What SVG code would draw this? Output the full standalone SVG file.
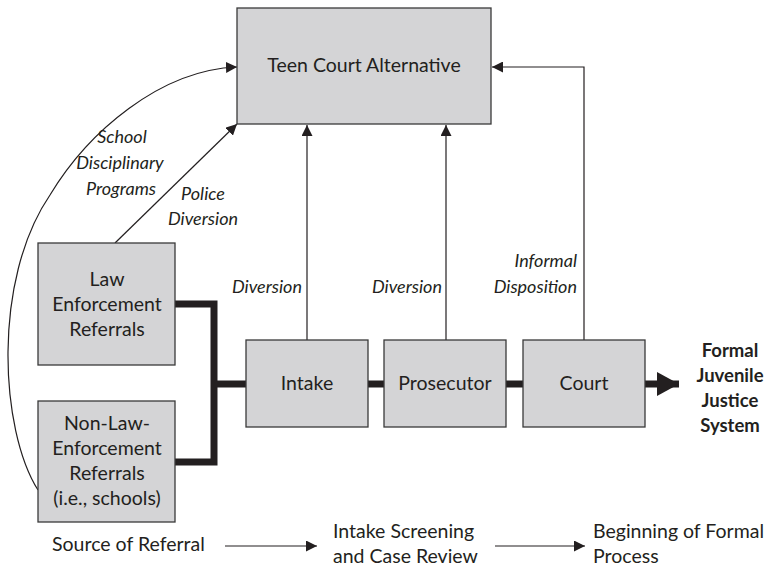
<svg xmlns="http://www.w3.org/2000/svg" width="784" height="567" viewBox="0 0 784 567">
<defs>
<marker id="ah" markerWidth="11" markerHeight="11" refX="11" refY="5.5" orient="auto" markerUnits="userSpaceOnUse">
<path d="M0,0 L11,5.5 L0,11 Z" fill="#231f20"/>
</marker>
<marker id="ahb" markerWidth="22" markerHeight="24" refX="22" refY="12" orient="auto" markerUnits="userSpaceOnUse">
<path d="M0,0 L22,12 L0,24 Z" fill="#231f20"/>
</marker>
<style>
.box{fill:#d4d4d6;stroke:#3a3a3a;stroke-width:1.3}
.t{font-family:Lato,"Liberation Sans",sans-serif;font-size:19.5px;fill:#231f20;text-anchor:middle}
.i{font-family:Lato,"Liberation Sans",sans-serif;font-size:18px;font-style:italic;fill:#231f20}
.b{font-family:Lato,"Liberation Sans",sans-serif;font-size:18.5px;font-weight:bold;fill:#231f20;text-anchor:middle}
.l{font-family:Lato,"Liberation Sans",sans-serif;font-size:19.5px;fill:#231f20}
.thin{fill:none;stroke:#231f20;stroke-width:1.2}
.thick{fill:none;stroke:#231f20;stroke-width:7}
</style>
</defs>
<rect width="784" height="567" fill="#fff"/>
<g id="connectors">
<path class="thick" d="M175,304 H214 V462 H175"/>
<path class="thick" d="M214,384 H246"/>
<path class="thick" d="M368,384 H384"/>
<path class="thick" d="M506,384 H523"/>
<path class="thick" d="M645,384 H679" marker-end="url(#ahb)"/>
<path class="thin" d="M307,340 V125" marker-end="url(#ah)"/>
<path class="thin" d="M446,340 V125" marker-end="url(#ah)"/>
<path class="thin" d="M584,340 V67 H492" marker-end="url(#ah)"/>
<path class="thin" d="M115,243 L237,124" marker-end="url(#ah)"/>
<path class="thin" d="M38,490 C0,430 -8,280 50,195 C88,132 160,70 237,67" marker-end="url(#ah)"/>
<path class="thin" d="M225,546 H317" marker-end="url(#ah)"/>
<path class="thin" d="M495,546 H585" marker-end="url(#ah)"/>
</g>
<g id="labels">
<text class="i" text-anchor="middle"><tspan x="122" y="143">School</tspan><tspan x="120" y="169">Disciplinary</tspan><tspan x="121" y="195">Programs</tspan></text>
<text class="i" text-anchor="middle"><tspan x="203" y="200">Police</tspan><tspan x="203" y="225">Diversion</tspan></text>
<text class="i" text-anchor="end" x="302" y="293">Diversion</text>
<text class="i" text-anchor="end" x="442" y="293">Diversion</text>
<text class="i" text-anchor="end"><tspan x="577" y="267">Informal</tspan><tspan x="577" y="293">Disposition</tspan></text>
</g>
<g id="teen-court">
<rect class="box" x="237" y="8" width="254" height="116"/>
<text class="t" x="364" y="72">Teen Court Alternative</text>
</g>
<g id="law-enforcement">
<rect class="box" x="38" y="243" width="137" height="122"/>
<text class="t"><tspan x="107" y="286">Law</tspan><tspan x="107" y="311">Enforcement</tspan><tspan x="107" y="336">Referrals</tspan></text>
</g>
<g id="non-law-enforcement">
<rect class="box" x="38" y="401" width="137" height="121"/>
<text class="t"><tspan x="107" y="430">Non-Law-</tspan><tspan x="107" y="455">Enforcement</tspan><tspan x="107" y="480">Referrals</tspan><tspan x="107" y="505">(i.e., schools)</tspan></text>
</g>
<g id="intake">
<rect class="box" x="246" y="340" width="122" height="87"/>
<text class="t" x="307" y="390">Intake</text>
</g>
<g id="prosecutor">
<rect class="box" x="384" y="340" width="122" height="87"/>
<text class="t" x="445" y="390">Prosecutor</text>
</g>
<g id="court">
<rect class="box" x="523" y="340" width="122" height="87"/>
<text class="t" x="584" y="390">Court</text>
</g>
<g id="formal-system">
<text class="b"><tspan x="730" y="357">Formal</tspan><tspan x="730" y="382">Juvenile</tspan><tspan x="730" y="407">Justice</tspan><tspan x="730" y="432">System</tspan></text>
</g>
<g id="stages">
<text class="l" x="52" y="551">Source of Referral</text>
<text class="l"><tspan x="333" y="538">Intake Screening</tspan><tspan x="333" y="563">and Case Review</tspan></text>
<text class="l"><tspan x="593" y="538">Beginning of Formal</tspan><tspan x="593" y="563">Process</tspan></text>
</g>
</svg>
